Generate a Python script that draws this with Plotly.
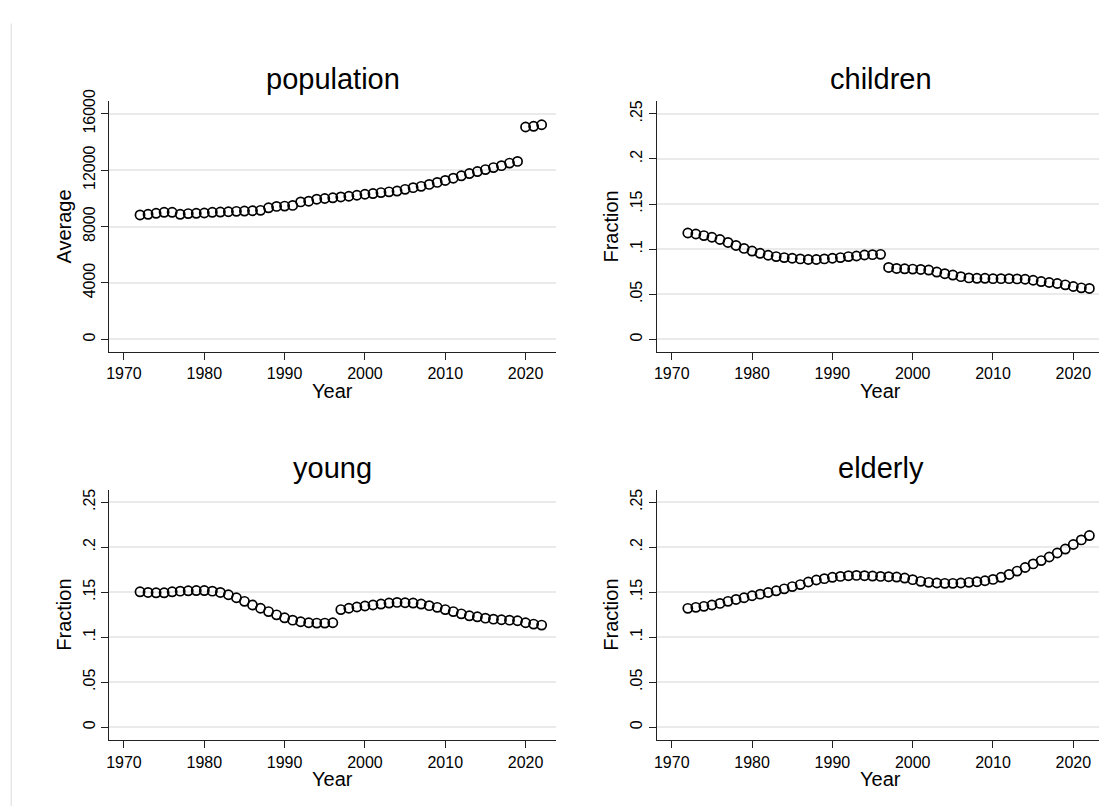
import plotly.graph_objects as go

W, H = 1099, 806

years = list(range(1972, 2023))

population = [8825, 8870, 8940, 9010, 9010, 8870, 8920, 8940, 8960, 9010,
              9030, 9050, 9080, 9100, 9120, 9150, 9330, 9430, 9450, 9500,
              9750, 9800, 9940, 9990, 10040, 10100, 10150, 10220, 10290, 10340,
              10410, 10460, 10520, 10640, 10760, 10850, 10990, 11130, 11270, 11430,
              11600, 11760, 11900, 12040, 12180, 12320, 12500, 12620, 15060, 15110,
              15220]

children = [0.1179, 0.1168, 0.1150, 0.1132, 0.1107, 0.1074, 0.1041, 0.1008, 0.0979, 0.0954,
            0.0932, 0.0917, 0.0906, 0.0899, 0.0892, 0.0885, 0.0885, 0.0892, 0.0899, 0.0906,
            0.0917, 0.0924, 0.0935, 0.0939, 0.0942, 0.0797, 0.0786, 0.0782, 0.0779, 0.0775,
            0.0768, 0.0746, 0.0728, 0.0713, 0.0695, 0.0681, 0.0677, 0.0677, 0.0673, 0.0673,
            0.0673, 0.0670, 0.0666, 0.0655, 0.0641, 0.0630, 0.0619, 0.0604, 0.0586, 0.0571,
            0.0564]

young = [0.1505, 0.1498, 0.1494, 0.1494, 0.1505, 0.1512, 0.1516, 0.1519, 0.1519, 0.1512,
         0.1498, 0.1472, 0.1439, 0.1399, 0.1358, 0.1322, 0.1285, 0.1249, 0.1216, 0.1190,
         0.1172, 0.1161, 0.1157, 0.1157, 0.1161, 0.1307, 0.1322, 0.1336, 0.1347, 0.1358,
         0.1369, 0.1380, 0.1387, 0.1383, 0.1380, 0.1369, 0.1351, 0.1332, 0.1307, 0.1285,
         0.1260, 0.1238, 0.1227, 0.1212, 0.1201, 0.1194, 0.1190, 0.1183, 0.1161, 0.1146,
         0.1135]

elderly = [0.1321, 0.1332, 0.1343, 0.1358, 0.1376, 0.1399, 0.1420, 0.1439, 0.1461, 0.1479,
           0.1497, 0.1516, 0.1538, 0.1563, 0.1585, 0.1614, 0.1636, 0.1651, 0.1666, 0.1676,
           0.1684, 0.1687, 0.1684, 0.1680, 0.1676, 0.1673, 0.1669, 0.1658, 0.1640, 0.1621,
           0.1610, 0.1603, 0.1599, 0.1599, 0.1603, 0.1610, 0.1617, 0.1628, 0.1643, 0.1666,
           0.1698, 0.1735, 0.1775, 0.1815, 0.1852, 0.1892, 0.1936, 0.1980, 0.2031, 0.2082,
           0.2130]

titles = ["population", "children", "young", "elderly"]
y_titles = ["Average", "Fraction", "Fraction", "Fraction"]
x_title = "Year"

x_tickvals = [1970, 1980, 1990, 2000, 2010, 2020]
pop_tickvals = [0, 4000, 8000, 12000, 16000]
pop_ticktext = ["0", "4000", "8000", "12000", "16000"]
frac_tickvals = [0, 0.05, 0.1, 0.15, 0.2, 0.25]
frac_ticktext = ["0", ".05", ".1", ".15", ".2", ".25"]

FONT = "Liberation Sans, Arial, sans-serif"


def px_x(x):
    return x / W


def px_y(y):
    return 1 - y / H


# panel geometry in pixels: (left, right, top, bottom)
panels = [
    (106.4, 555.0, 90.7, 345.0),
    (655.7, 1099.0, 90.7, 345.0),
    (106.4, 555.0, 485.0, 739.3),
    (655.7, 1099.0, 485.0, 739.3),
]
xranges = [[1968.15, 2023.85], [1968.15, 2023.2], [1968.15, 2023.85], [1968.15, 2023.2]]
yranges = [[-887, 16880], [-0.01386, 0.2638], [-0.01457, 0.2639], [-0.01457, 0.2639]]
series = [population, children, young, elderly]

fig = go.Figure()
layout = dict(
    width=W, height=H,
    margin=dict(l=0, r=0, t=0, b=0),
    paper_bgcolor="white", plot_bgcolor="white",
    showlegend=False,
    font=dict(family=FONT, color="black"),
)
annotations = []

for i in range(4):
    xa = "xaxis" if i == 0 else f"xaxis{i+1}"
    ya = "yaxis" if i == 0 else f"yaxis{i+1}"
    xref = "x" if i == 0 else f"x{i+1}"
    yref = "y" if i == 0 else f"y{i+1}"
    l, r, t, b = panels[i]
    layout[xa] = dict(
        domain=[px_x(l), px_x(r)], range=xranges[i], anchor=yref,
        tickvals=x_tickvals, ticks="outside", ticklen=7, tickwidth=1.2, tickcolor="#222",
        showline=True, linecolor="#222", linewidth=1.3, showgrid=False, zeroline=False,
        tickfont=dict(size=16, family=FONT, color="black"),
    )
    if i == 0:
        tv, tt = pop_tickvals, pop_ticktext
    else:
        tv, tt = frac_tickvals, frac_ticktext
    layout[ya] = dict(
        domain=[px_y(b), px_y(t)], range=yranges[i], anchor=xref,
        tickvals=tv, ticktext=tt, tickangle=-90, ticks="outside", ticklen=7, tickwidth=1.2,
        tickcolor="#222", showline=True, linecolor="#222", linewidth=1.3,
        showgrid=True, gridcolor="#eaeaea", gridwidth=2, zeroline=False,
        tickfont=dict(size=16, family=FONT, color="black"),
    )
    fig.add_trace(go.Scatter(
        x=years, y=series[i], mode="markers", xaxis=xref, yaxis=yref,
        marker=dict(symbol="circle-open", size=9.2, color="black", line=dict(width=1.7)),
        hoverinfo="skip",
    ))

# titles (pixel centres)
title_pos = [(330.7, 68), (880, 68), (330.7, 463), (880, 463)]
ytitle_pos = [(61, 218), (609.5, 218), (61, 612), (609.5, 612)]
xtitle_pos = [(330.7, 385), (880, 385), (330.7, 779), (880, 779)]
for i in range(4):
    tx, ty = title_pos[i]
    annotations.append(dict(text=titles[i], x=px_x(tx), y=px_y(ty), xref="paper", yref="paper",
                            showarrow=False, xanchor="center", yanchor="middle",
                            font=dict(size=29, family=FONT, color="black")))
    ax, ay = ytitle_pos[i]
    annotations.append(dict(text=y_titles[i], x=px_x(ax), y=px_y(ay), xref="paper", yref="paper",
                            showarrow=False, xanchor="center", yanchor="middle", textangle=-90,
                            font=dict(size=20, family=FONT, color="black")))
    bx, by = xtitle_pos[i]
    annotations.append(dict(text=x_title, x=px_x(bx), y=px_y(by), xref="paper", yref="paper",
                            showarrow=False, xanchor="center", yanchor="middle",
                            font=dict(size=20, family=FONT, color="black")))

layout["annotations"] = annotations
layout["shapes"] = [dict(type="line", xref="paper", yref="paper",
                         x0=px_x(8.3), x1=px_x(8.3), y0=px_y(11.7), y1=0,
                         line=dict(color="#e6e6e6", width=1.5))]
fig.update_layout(**layout)
fig.write_html("out.html", config={"displayModeBar": False},
               post_script="document.body.style.margin='0';")
